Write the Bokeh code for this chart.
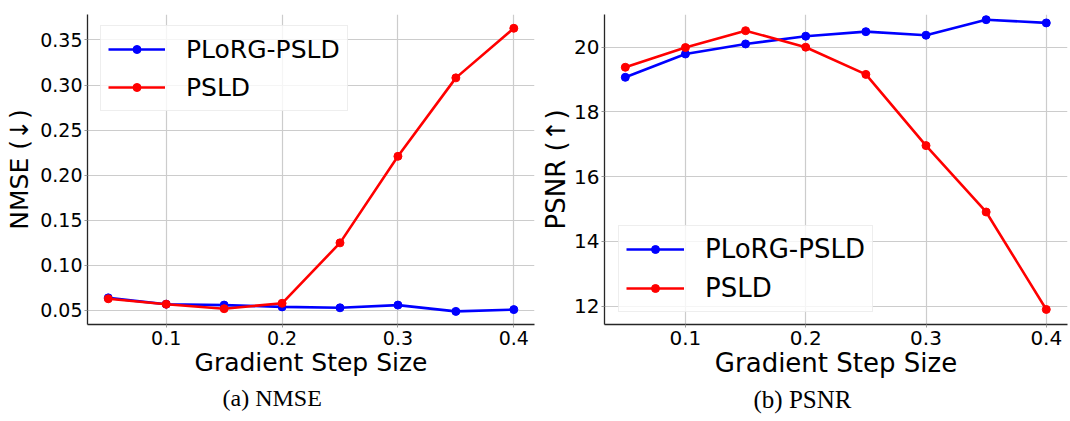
from bokeh.plotting import figure
from bokeh.models import Range1d, FixedTicker, PrintfTickFormatter, Legend, LegendItem, Title
from bokeh.layouts import row
from bokeh.embed import file_html
from bokeh.resources import INLINE

# ---- data ----
steps = [0.05, 0.10, 0.15, 0.20, 0.25, 0.30, 0.35, 0.40]
nmse_plorg = [0.064, 0.057, 0.056, 0.054, 0.053, 0.056, 0.049, 0.051]
nmse_psld = [0.063, 0.057, 0.052, 0.058, 0.125, 0.221, 0.308, 0.363]
psnr_plorg = [19.07, 19.79, 20.10, 20.34, 20.48, 20.37, 20.85, 20.75]
psnr_psld = [19.38, 19.99, 20.51, 20.00, 19.16, 16.96, 14.91, 11.90]
series_names = ["PLoRG-PSLD", "PSLD"]
series_colors = ["#0000ff", "#ff0000"]
x_ticks = [0.1, 0.2, 0.3, 0.4]
nmse_ticks = [0.05, 0.10, 0.15, 0.20, 0.25, 0.30, 0.35]
psnr_ticks = [12, 14, 16, 18, 20]
x_label = "Gradient Step Size"
captions = ["(a) NMSE", "(b) PSNR"]
y_labels = ["NMSE (\u2193)", "PSNR (\u2191)"]

FONT = "DejaVu Sans"


def style(p, xt, yt, yfmt, tick_size, label_size, ylabel, ylabel_standoff):
    p.outline_line_color = None
    p.background_fill_color = "white"
    p.border_fill_color = "white"
    for ax in (p.xaxis[0], p.yaxis[0]):
        ax.axis_line_color = "#262626"
        ax.axis_line_width = 1.3
        ax.major_tick_in = 0
        ax.major_tick_out = 3
        ax.major_tick_line_color = "#999999"
        ax.minor_tick_in = 0
        ax.minor_tick_out = 0
        ax.major_label_text_font = FONT
        ax.major_label_text_font_size = tick_size
        ax.major_label_text_color = "black"
        ax.axis_label_text_font = FONT
        ax.axis_label_text_font_size = label_size
        ax.axis_label_text_font_style = "normal"
        ax.axis_label_text_color = "black"
    p.xaxis[0].axis_label_standoff = 0
    p.yaxis[0].axis_label_standoff = ylabel_standoff
    p.xaxis[0].major_label_standoff = 3
    p.yaxis[0].major_label_standoff = 2
    p.xaxis[0].ticker = FixedTicker(ticks=xt)
    p.yaxis[0].ticker = FixedTicker(ticks=yt)
    p.xgrid[0].ticker = FixedTicker(ticks=xt)
    p.ygrid[0].ticker = FixedTicker(ticks=yt)
    p.xaxis[0].formatter = PrintfTickFormatter(format="%.1f")
    p.yaxis[0].formatter = PrintfTickFormatter(format=yfmt)
    p.xaxis[0].axis_label = x_label
    p.yaxis[0].axis_label = ylabel
    for g in (p.xgrid[0], p.ygrid[0]):
        g.grid_line_color = "#cccccc"
        g.grid_line_width = 1.2


def add_series(p, ys_list, loc, font_size, glyph_w, standoff, item_h, spacing):
    items = []
    for name, color, ys in zip(series_names, series_colors, ys_list):
        l = p.line(steps, ys, line_color=color, line_width=2.6)
        s = p.scatter(steps, ys, size=8, fill_color=color, line_color=color)
        items.append(LegendItem(label=name, renderers=[l, s]))
    lg = Legend(items=items, location=loc)
    lg.label_text_font = FONT
    lg.label_text_font_size = font_size
    lg.label_text_color = "black"
    lg.glyph_width = glyph_w
    lg.glyph_height = 20
    lg.label_height = item_h
    lg.label_standoff = standoff
    lg.padding = 7
    lg.spacing = spacing
    lg.margin = 0
    lg.border_line_color = "#dddddd"
    lg.border_line_width = 1
    lg.background_fill_color = "white"
    lg.background_fill_alpha = 0.8
    p.add_layout(lg)


def add_caption(p, text, offset, standoff, size):
    t = Title(text=text, align="left", offset=offset, standoff=standoff,
              text_font="Liberation Serif", text_font_size=size,
              text_font_style="normal", text_color="black")
    p.add_layout(t, "below")


# ---- left: NMSE ----
p1 = figure(width=538, height=421, output_backend="svg", toolbar_location=None,
            x_range=Range1d(0.03208, 0.41786), y_range=Range1d(0.03447, 0.37828),
            min_border_left=87, min_border_right=4, min_border_top=14, min_border_bottom=97)
style(p1, x_ticks, nmse_ticks, "%.2f", "19px", "25px", y_labels[0], 3)
add_series(p1, [nmse_plorg, nmse_psld], (13, 213), "25px", 57, 21, 32, 6)
add_caption(p1, captions[0], 135, 7, "24px")

# ---- right: PSNR ----
p2 = figure(width=531, height=421, output_backend="svg", toolbar_location=None,
            x_range=Range1d(0.03270, 0.41763), y_range=Range1d(11.435, 21.010),
            min_border_left=64, min_border_right=2, min_border_top=14, min_border_bottom=97)
style(p2, x_ticks, psnr_ticks, "%d", "20px", "26px", y_labels[1], 0)
add_series(p2, [psnr_plorg, psnr_psld], (14, 12), "26px", 58, 21, 32, 7)
add_caption(p2, captions[1], 149, 7, "25px")

layout = row(p1, p2)
open("out.html", "w").write(file_html(layout, INLINE))
